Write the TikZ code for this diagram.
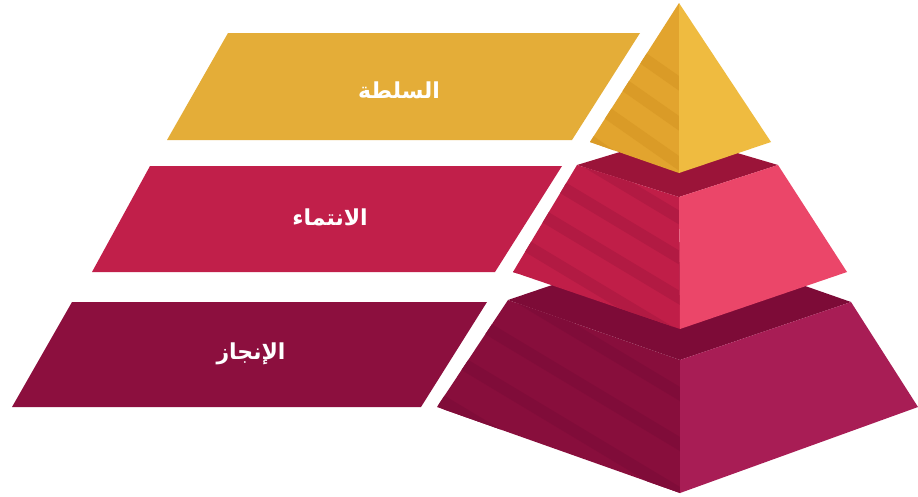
\documentclass[tikz,border=0pt]{standalone}
\usepackage{fontspec}
\newfontfamily\arabicfont[Script=Arabic]{DejaVu Sans}
\TeXXeTstate=1
\definecolor{goldban}{HTML}{E4AD38}
\definecolor{pinkban}{HTML}{C11F4A}
\definecolor{maroonban}{HTML}{8C0F3E}
\definecolor{goldL}{HTML}{E2A42E}
\definecolor{goldS}{HTML}{DA9B27}
\definecolor{goldR}{HTML}{EFBB40}
\definecolor{pinkL}{HTML}{C01E48}
\definecolor{pinkS}{HTML}{B21A43}
\definecolor{pinkR}{HTML}{EB4669}
\definecolor{pinkT}{HTML}{9B1439}
\definecolor{marL}{HTML}{880E3C}
\definecolor{marS}{HTML}{800C39}
\definecolor{marR}{HTML}{A81D55}
\definecolor{marT}{HTML}{7D0B37}
\begin{document}
\begin{tikzpicture}[x=1pt,y=-1pt,
  lbl/.style={text=white,font=\arabicfont\bfseries\fontsize{22}{26}\selectfont,inner sep=0pt},
  stripe/.style={line width=12pt}]
\useasboundingbox (0,0) rectangle (918,496);
\fill[white] (0,0) rectangle (918,496);
% banners
\fill[goldban] (228,33) -- (640,33) -- (572,140) -- (167,140) -- cycle;
\fill[pinkban] (150,166) -- (562,166) -- (495,272) -- (92,272) -- cycle;
\fill[maroonban] (72,302) -- (487,302) -- (421,407) -- (12,407) -- cycle;
% bottom layer
\fill[marT] (508,300) -- (680,360) -- (851,302) -- (679,242) -- cycle;
\begin{scope}
  \clip (508,300) -- (680,360) -- (680,493) -- (437,407) -- cycle;
  \fill[marL] (430,290) rectangle (690,500);
  \foreach \s in {250,300,350,400,450}
    \draw[stripe,marS] (440,\s) -- ++(300,180);
\end{scope}
\fill[marR] (680,360) -- (851,302) -- (918,407) -- (680,493) -- cycle;
% middle layer
\fill[pinkT] (577,165) -- (679,197) -- (778,165) -- (676,135) -- cycle;
\begin{scope}
  \clip (577,165) -- (679,197) -- (680,329) -- (513,272) -- cycle;
  \fill[pinkL] (505,155) rectangle (690,335);
  \foreach \s in {110,150,190,230,270}
    \draw[stripe,pinkS] (500,\s) -- ++(300,180);
\end{scope}
\fill[pinkR] (679,197) -- (778,165) -- (847,272) -- (680,329) -- cycle;
% top pyramid
\begin{scope}
  \clip (679,3) -- (590,142) -- (679,173) -- cycle;
  \fill[goldL] (585,0) rectangle (685,180);
  \foreach \s in {0,40,80,120}
    \draw[stripe,goldS] (560,\s) -- ++(250,175);
\end{scope}
\fill[goldR] (679,3) -- (771,142) -- (679,173) -- cycle;
% labels
\node[lbl] (t1) at (399,90) {\beginR السلطة\endR};
\node[lbl] (t2) at (330,217) {\beginR الانتماء\endR};
\node[lbl] (t3) at (251,354) {\beginR الإنجاز\endR};
\end{tikzpicture}
\end{document}
